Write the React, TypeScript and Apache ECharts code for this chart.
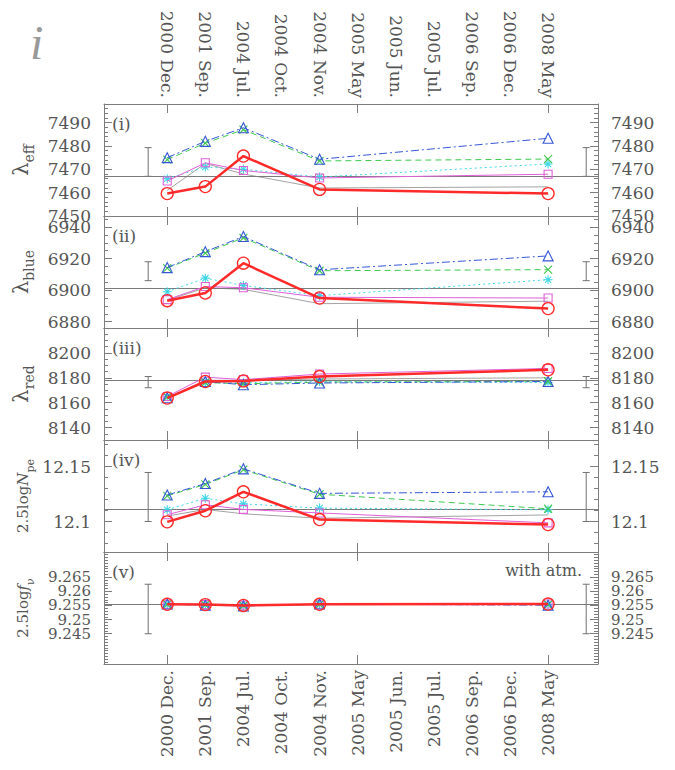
import React, { useEffect, useRef } from "react";
import * as echarts from "echarts";

// ---------- data ----------
const dateLabels = [
  "2000 Dec.", "2001 Sep.", "2004 Jul.", "2004 Oct.", "2004 Nov.",
  "2005 May", "2005 Jun.", "2005 Jul.", "2006 Sep.", "2006 Dec.", "2008 May",
];
const obsIndex = [0, 1, 2, 4, 10];
const errBarX = [-0.5, 11];

// (i) lambda_eff
const effRed = [7459.6, 7462.6, 7475.7, 7461.4, 7459.6];
const effBlue = [7475.0, 7482.0, 7487.8, 7474.3, 7483.3];
const effGreen = [7474.2, 7481.2, 7487.0, 7473.6, 7474.4];
const effCyan = [7466.0, 7471.0, 7470.0, 7466.7, 7472.3];
const effMagenta = [7465.0, 7472.8, 7469.5, 7466.3, 7467.9];
const effGray = [7461.0, 7472.5, 7468.0, 7462.0, 7462.5];
const effRef = 7467.1;
const effErr = [7467.0, 7479.3];
const effTicks = [7450, 7460, 7470, 7480, 7490];

// (ii) lambda_blue
const blueRed = [6893.3, 6898.2, 6917.1, 6895.0, 6888.3];
const blueBlue = [6914.3, 6924.4, 6934.0, 6912.9, 6921.7];
const blueGreen = [6914.0, 6923.5, 6933.2, 6912.3, 6913.0];
const blueCyan = [6899.0, 6907.6, 6903.0, 6896.5, 6906.6];
const blueMagenta = [6894.0, 6902.3, 6901.5, 6895.5, 6895.0];
const blueGray = [6893.5, 6901.5, 6900.5, 6891.4, 6893.0];
const blueRef = 6901.5;
const blueErr = [6906.0, 6918.0];
const blueTicks = [6880, 6900, 6920, 6940];

// (iii) lambda_red
const redRed = [8163.7, 8177.0, 8177.5, 8181.0, 8186.4];
const redBlue = [8164.0, 8177.0, 8174.4, 8175.8, 8177.0];
const redGreen = [8164.5, 8176.2, 8175.2, 8176.5, 8177.2];
const redCyan = [8164.8, 8176.0, 8176.0, 8177.0, 8176.2];
const redMagenta = [8165.0, 8180.5, 8178.5, 8183.0, 8187.5];
const redGray = [8163.8, 8178.0, 8178.0, 8179.0, 8180.0];
const redRef = 8178.0;
const redErr = [8172.0, 8181.0];
const redTicks = [8140, 8160, 8180, 8200];

// (iv) 2.5 log N_pe
const npeRed = [12.0997, 12.1098, 12.127, 12.1018, 12.0973];
const npeBlue = [12.1241, 12.1345, 12.1479, 12.1256, 12.127];
const npeGreen = [12.1233, 12.1337, 12.1471, 12.1248, 12.1116];
const npeCyan = [12.1107, 12.1212, 12.116, 12.1122, 12.1107];
const npeMagenta = [12.1062, 12.1152, 12.111, 12.1078, 12.0988];
const npeGray = [12.105, 12.111, 12.107, 12.103, 12.106];
const npeRef = 12.1116;
const npeErr = [12.1, 12.1446];
const npeTicks = [12.1, 12.15];

// (v) 2.5 log f_nu
const fnuRed = [9.2554, 9.2553, 9.255, 9.2554, 9.2555];
const fnuBlue = [9.2555, 9.2551, 9.2548, 9.2555, 9.2551];
const fnuGreen = [9.2554, 9.2552, 9.2549, 9.2554, 9.2553];
const fnuCyan = [9.2553, 9.2552, 9.255, 9.2553, 9.2553];
const fnuMagenta = [9.2554, 9.2553, 9.2551, 9.2554, 9.2555];
const fnuGray = [9.2553, 9.2553, 9.2551, 9.2553, 9.2554];
const fnuRef = 9.2553;
const fnuErr = [9.245, 9.2625];
const fnuTicks = [9.245, 9.25, 9.255, 9.26, 9.265];

// ---------- styling ----------
const FONT = "'DejaVu Serif', 'Liberation Serif', serif";
const TXT = "#555";
const FRAME = "#7d7d7d";

const styles: Record<string, any> = {
  gray: { color: "#8c8c8c", width: 0.8, type: "solid", symbol: "none", size: 0 },
  cyan: { color: "#3fd6e6", width: 1, type: [2, 3], symbol: "path://M5,0L5,10M0,5L10,5M1.5,1.5L8.5,8.5M8.5,1.5L1.5,8.5", size: 9 },
  magenta: { color: "#e060d8", width: 1, type: "solid", symbol: "rect", size: 8 },
  green: { color: "#3fc84f", width: 1, type: [6, 4], symbol: "path://M0,0L10,10M10,0L0,10", size: 8 },
  blue: { color: "#3656d6", width: 1, type: [8, 3, 2, 3], symbol: "triangle", size: 10 },
  red: { color: "#ff2a2a", width: 2.5, type: "solid", symbol: "circle", size: 12 },
};
const order = ["gray", "cyan", "magenta", "green", "blue", "red"];

const panels = [
  { name: "{l|λ}{s|eff}", min: 7450, max: 7498, ticks: effTicks, minor: 2, ref: effRef, err: effErr,
    vals: { red: effRed, blue: effBlue, green: effGreen, cyan: effCyan, magenta: effMagenta, gray: effGray } },
  { name: "{l|λ}{s|blue}", min: 6876, max: 6947, ticks: blueTicks, minor: 5, ref: blueRef, err: blueErr,
    vals: { red: blueRed, blue: blueBlue, green: blueGreen, cyan: blueCyan, magenta: blueMagenta, gray: blueGray } },
  { name: "{l|λ}{s|red}", min: 8130, max: 8220, ticks: redTicks, minor: 5, ref: redRef, err: redErr,
    vals: { red: redRed, blue: redBlue, green: redGreen, cyan: redCyan, magenta: redMagenta, gray: redGray } },
  { name: "{n|2.5log}{i|N}{s2|pe}", min: 12.0723, max: 12.1741, ticks: npeTicks, minor: 0.01, ref: npeRef, err: npeErr,
    vals: { red: npeRed, blue: npeBlue, green: npeGreen, cyan: npeCyan, magenta: npeMagenta, gray: npeGray } },
  { name: "{n|2.5log}{i|f}{s2|ν}", min: 9.2343, max: 9.2739, ticks: fnuTicks, minor: 0.001, ref: fnuRef, err: fnuErr,
    vals: { red: fnuRed, blue: fnuBlue, green: fnuGreen, cyan: fnuCyan, magenta: fnuMagenta, gray: fnuGray } },
];
const panelTags = ["(i)", "(ii)", "(iii)", "(iv)", "(v)"];

const GRID_LEFT = 104;
const GRID_TOP = 104;
const GRID_W = 494;
const GRID_H = 112;
const X_MIN = -1.66;
const X_MAX = 11.31;

function minorValues(min: number, max: number, step: number) {
  const out: number[] = [];
  const start = Math.ceil(min / step - 1e-9);
  const end = Math.floor(max / step + 1e-9);
  for (let k = start; k <= end; k++) out.push(parseFloat((k * step).toFixed(6)));
  return out;
}

function buildOption() {
  const grid: any[] = [];
  const xAxis: any[] = [];
  const yAxis: any[] = [];
  const series: any[] = [];
  const graphic: any[] = [];

  panels.forEach((p, g) => {
    const top = GRID_TOP + g * GRID_H;
    grid.push({ left: GRID_LEFT, top, width: GRID_W, height: GRID_H, containLabel: false });

    ["bottom", "top"].forEach((pos) => {
      const showLab = (pos === "bottom" && g === 4) || (pos === "top" && g === 0);
      xAxis.push({
        type: "value", gridIndex: g, position: pos, min: X_MIN, max: X_MAX,
        axisLine: { show: true, onZero: false, lineStyle: { color: FRAME, width: 1 } },
        axisTick: { show: true, inside: true, length: 9, customValues: [0, 5, 10], lineStyle: { color: FRAME } },
        axisLabel: {
          show: showLab, rotate: 90, margin: 6, customValues: dateLabels.map((_, i) => i),
          showMinLabel: true, showMaxLabel: true, hideOverlap: false,
          formatter: (v: number) => dateLabels[Math.round(v)] ?? "",
          color: TXT, fontFamily: FONT, fontSize: 17,
        },
        splitLine: { show: false },
      });
    });

    const fmt = (v: number) => String(parseFloat(Number(v).toFixed(4)));
    const minors = minorValues(p.min, p.max, p.minor);
    const evenTicks = p.ticks.filter((_, i) => i % 2 === 0);
    const oddTicks = p.ticks.filter((_, i) => i % 2 === 1);
    const labelStyle = {
      formatter: fmt, margin: 13, showMinLabel: true, showMaxLabel: true, hideOverlap: false,
      color: TXT, fontFamily: FONT, fontSize: g === 4 ? 15 : 17, lineHeight: g === 4 ? 13 : 18,
    };
    ["left", "right"].forEach((pos) => {
      yAxis.push({
        type: "value", gridIndex: g, position: pos, min: p.min, max: p.max,
        name: pos === "left" ? p.name : "", nameLocation: "middle", nameRotate: 90, nameGap: 68,
        nameTextStyle: {
          color: TXT, fontFamily: FONT,
          rich: {
            l: { fontSize: 21, fontFamily: FONT, color: TXT, lineHeight: 30 },
            s: { fontSize: 14, fontFamily: FONT, color: TXT, lineHeight: 14, verticalAlign: "bottom" },
            n: { fontSize: 15, fontFamily: FONT, color: TXT, lineHeight: 26 },
            i: { fontSize: 15, fontFamily: FONT, fontStyle: "italic", color: TXT, lineHeight: 26 },
            s2: { fontSize: 11, fontFamily: FONT, color: TXT, lineHeight: 12, verticalAlign: "bottom" },
          },
        },
        axisLine: { show: true, onZero: false, lineStyle: { color: FRAME, width: 1 } },
        axisTick: { show: true, inside: true, length: 8, customValues: p.ticks, lineStyle: { color: FRAME } },
        axisLabel: { show: true, customValues: evenTicks, ...labelStyle },
        splitLine: { show: false },
      });
      yAxis.push({
        type: "value", gridIndex: g, position: pos, min: p.min, max: p.max,
        axisLine: { show: false, onZero: false },
        axisTick: { show: true, inside: true, length: 4, customValues: minors, lineStyle: { color: FRAME } },
        axisLabel: { show: oddTicks.length > 0, customValues: oddTicks.length ? oddTicks : [p.min], ...labelStyle },
        splitLine: { show: false },
      });
    });

    const xi = 2 * g;
    const yi = 4 * g;

    series.push({
      type: "custom", xAxisIndex: xi, yAxisIndex: yi, silent: true, z: 3,
      data: errBarX.map((x) => [x, p.err[0], p.err[1]]),
      renderItem: (_params: any, api: any) => {
        const a = api.coord([api.value(0), api.value(1)]);
        const b = api.coord([api.value(0), api.value(2)]);
        const c = 3.5;
        const st = { stroke: "#707070", lineWidth: 1 };
        return {
          type: "group",
          children: [
            { type: "line", shape: { x1: a[0], y1: a[1], x2: b[0], y2: b[1] }, style: st },
            { type: "line", shape: { x1: a[0] - c, y1: a[1], x2: a[0] + c, y2: a[1] }, style: st },
            { type: "line", shape: { x1: b[0] - c, y1: b[1], x2: b[0] + c, y2: b[1] }, style: st },
          ],
        };
      },
    });

    order.forEach((key, k) => {
      const s = styles[key];
      const vals = (p.vals as any)[key] as number[];
      const item: any = {
        type: "line", xAxisIndex: xi, yAxisIndex: yi, silent: true, z: 4 + k,
        data: obsIndex.map((x, i) => [x, vals[i]]),
        symbol: s.symbol, symbolSize: s.size, showSymbol: s.symbol !== "none",
        lineStyle: { color: s.color, width: s.width, type: s.type },
        itemStyle: { color: "rgba(0,0,0,0)", borderColor: s.color, borderWidth: key === "red" ? 1.3 : 1.1 },
        emphasis: { disabled: true },
      };
      if (key === "gray") {
        item.markLine = {
          silent: true, symbol: ["none", "none"], label: { show: false }, precision: 6,
          lineStyle: { color: "#7a7a7a", width: 1, type: "solid" },
          data: [{ yAxis: p.ref }],
        };
      }
      series.push(item);
    });

    graphic.push({
      type: "text", x: 112, y: top + 20,
      style: { text: panelTags[g], font: `17px ${FONT}`, fill: TXT, textVerticalAlign: "middle" },
    });
  });

  graphic.push({
    type: "text", x: 582, y: GRID_TOP + 4 * GRID_H + 18,
    style: { text: "with atm.", font: `16px ${FONT}`, fill: TXT, textAlign: "right", textVerticalAlign: "middle" },
  });
  graphic.push({
    type: "text", x: 30, y: 42,
    style: { text: "i", font: `italic 48px 'Liberation Serif', serif`, fill: "#999", textVerticalAlign: "middle" },
  });

  return { animation: false, backgroundColor: "#ffffff", grid, xAxis, yAxis, series, graphic };
}

export default function App() {
  const ref = useRef<HTMLDivElement>(null);
  useEffect(() => {
    document.body.style.margin = "0";
    if (!ref.current) return;
    const chart = echarts.init(ref.current, null, { renderer: "svg" });
    chart.setOption(buildOption() as any);
    return () => chart.dispose();
  }, []);
  return <div ref={ref} style={{ width: 675, height: 770 }} />;
}
